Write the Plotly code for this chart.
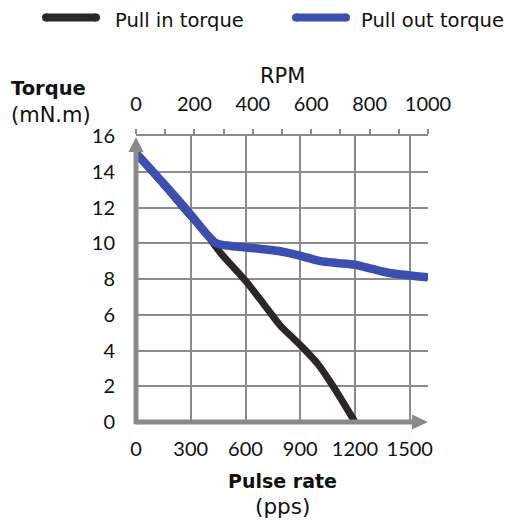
import plotly.graph_objects as go

# ---- data ----
pull_in_pps = [0, 150, 300, 370, 460, 600, 700, 790, 860, 920, 1000, 1080, 1200]
pull_in_torque = [15.0, 13.3, 11.5, 10.75, 9.5, 7.9, 6.6, 5.4, 4.7, 4.1, 3.2, 2.0, 0.0]

pull_out_pps = [0, 150, 300, 380, 440, 520, 620, 790, 900, 1010, 1100, 1200, 1300, 1400, 1500, 1600]
pull_out_torque = [15.05, 13.35, 11.6, 10.6, 10.0, 9.85, 9.75, 9.55, 9.3, 9.0, 8.9, 8.8, 8.55, 8.32, 8.2, 8.1]

pps_ticks = [0, 300, 600, 900, 1200, 1500]
rpm_ticks = [0, 200, 400, 600, 800, 1000]
rpm_minor = [100, 300, 500, 700, 900]
torque_ticks = [0, 2, 4, 6, 8, 10, 12, 14, 16]

series_names = ["Pull in torque", "Pull out torque"]
series_colors = ["#2b2724", "#3c4fb0"]

GRID = "#8c8c8c"
AXIS = "#8a8a8a"
TXT = "#111111"
FONT = "Lato"
FONT2 = "DejaVu Sans"
OFF = 8  # page body margin in the browser
W, H = 517 - OFF, 522 - OFF
L, R, T, B = 136 - OFF, 89, 136 - OFF, 100
PW, PH = W - L - R, H - T - B


def px_x(px):
    # reference pixel -> paper x
    return (px - OFF - L) / PW


def px_y(py):
    return (H - B - (py - OFF)) / PH


fig = go.Figure()
fig.add_trace(go.Scatter(x=pull_in_pps, y=pull_in_torque, mode="lines",
                         line=dict(color=series_colors[0], width=7, shape="spline", smoothing=0.8),
                         name=series_names[0], showlegend=False))
fig.add_trace(go.Scatter(x=pull_out_pps, y=pull_out_torque, mode="lines",
                         line=dict(color=series_colors[1], width=8.5, shape="spline", smoothing=0.8),
                         name=series_names[1], showlegend=False))
# invisible trace so the top RPM axis is drawn
fig.add_trace(go.Scatter(x=rpm_ticks, y=[0] * len(rpm_ticks), xaxis="x2", mode="lines",
                         line=dict(width=0), opacity=0, hoverinfo="skip", showlegend=False))

shapes = [
    # thick y axis (paper refs so that nothing is clipped)
    dict(type="line", xref="paper", yref="paper", x0=0, x1=0, y0=-0.008, y1=0.95,
         line=dict(color=AXIS, width=5), layer="above"),
    # thick x axis
    dict(type="line", xref="paper", yref="paper", x0=0, x1=0.95, y0=0, y1=0,
         line=dict(color=AXIS, width=5), layer="above"),
    # arrow heads
    dict(type="path", xref="paper", yref="paper", xsizemode="pixel", ysizemode="pixel",
         xanchor=1, yanchor=0, path="M-16,-7.5 L0,0 L-16,7.5 Z",
         fillcolor=AXIS, line=dict(width=0), layer="above"),
    dict(type="path", xref="paper", yref="paper", xsizemode="pixel", ysizemode="pixel",
         xanchor=0, yanchor=1, path="M-7.5,-16 L0,-1 L7.5,-16 Z",
         fillcolor=AXIS, line=dict(width=0), layer="above"),
]

# manual legend
legend_items = [(46, 96, 114), (296, 346, 360)]
annotations = []
for (a, b, tx), name, col in zip(legend_items, series_names, series_colors):
    shapes.append(dict(type="line", xref="paper", yref="paper", x0=px_x(a), x1=px_x(b),
                       y0=px_y(17.5), y1=px_y(17.5), line=dict(color=col, width=8)))
    for e in (a, b):
        shapes.append(dict(type="circle", xref="paper", yref="paper", xsizemode="pixel",
                           ysizemode="pixel", xanchor=px_x(e), yanchor=px_y(17.5),
                           x0=-4, x1=4, y0=-4, y1=4, fillcolor=col, line=dict(width=0)))
    annotations.append(dict(xref="paper", yref="paper", x=px_x(tx), y=px_y(20.5),
                            xanchor="left", yanchor="middle", showarrow=False, borderpad=0,
                            text=name, font=dict(size=19.5, family=FONT2, color=TXT)))

annotations += [
    dict(xref="paper", yref="paper", x=px_x(9), y=px_y(89), xanchor="left", yanchor="middle",
         showarrow=False, text="<b>Torque</b>", font=dict(size=19.5, family=FONT2, color=TXT)),
    dict(xref="paper", yref="paper", x=px_x(9), y=px_y(115), xanchor="left", yanchor="middle",
         showarrow=False, text="(mN.m)", font=dict(size=21, family=FONT2, color=TXT)),
    dict(xref="paper", yref="paper", x=0.5, y=px_y(76), xanchor="center", yanchor="middle",
         showarrow=False, text="RPM", font=dict(size=21, family=FONT2, color=TXT)),
    dict(xref="paper", yref="paper", x=0.5, y=px_y(481), xanchor="center", yanchor="middle",
         showarrow=False, text="<b>Pulse rate</b>", font=dict(size=19, family=FONT2, color=TXT)),
    dict(xref="paper", yref="paper", x=0.5, y=px_y(507), xanchor="center", yanchor="middle",
         showarrow=False, text="(pps)", font=dict(size=21.5, family=FONT2, color=TXT)),
]

fig.update_layout(
    width=W, height=H,
    margin=dict(l=L, r=R, t=T, b=B),
    paper_bgcolor="white", plot_bgcolor="white",
    font=dict(family=FONT, color=TXT, size=19),
    showlegend=False,
    shapes=shapes,
    annotations=annotations,
    xaxis=dict(range=[0, 1600], tickvals=pps_ticks, showgrid=True, gridcolor=GRID, gridwidth=2,
               zeroline=False, showline=False, ticks="", ticklabelstandoff=13,
               tickfont=dict(size=20, family=FONT, color=TXT)),
    xaxis2=dict(range=[0, 1000], overlaying="x", side="top", tickvals=rpm_ticks,
                showgrid=False, zeroline=False, showline=True, linecolor=GRID, linewidth=2,
                ticks="outside", ticklen=5, tickwidth=2, tickcolor=GRID, ticklabelstandoff=10,
                minor=dict(tickvals=rpm_minor, ticks="outside", ticklen=5, tickwidth=2, tickcolor=GRID),
                tickfont=dict(size=20, family=FONT, color=TXT)),
    yaxis=dict(range=[0, 16], tickvals=torque_ticks, showgrid=True, gridcolor=GRID, gridwidth=2,
               zeroline=False, showline=False, ticks="", ticklabelstandoff=20,
               tickfont=dict(size=20, family=FONT, color=TXT)),
)

fig.write_html("out.html")
